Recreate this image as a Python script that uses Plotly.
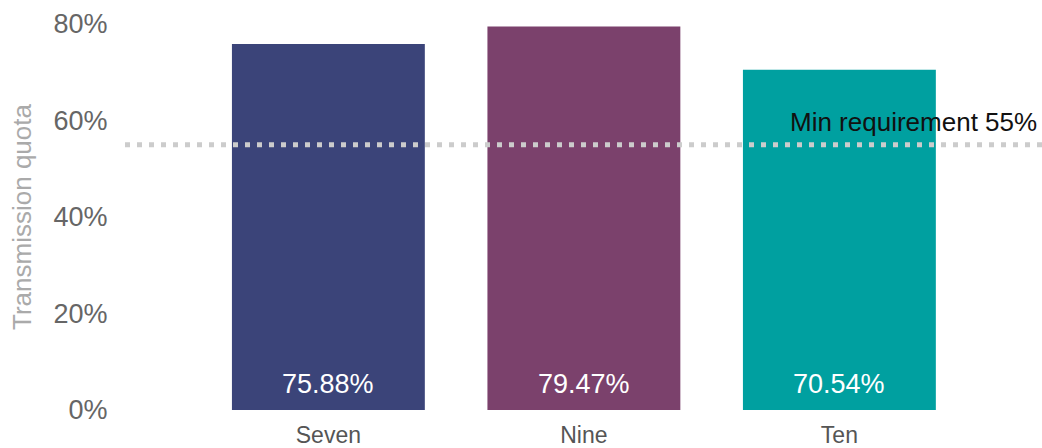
import plotly.graph_objects as go

categories = ["Seven", "Nine", "Ten"]
values = [75.88, 79.47, 70.54]
colors = ["#3b4479", "#7b416c", "#00a0a0"]
threshold = 55
threshold_label = "Min requirement 55%"
y_ticks = [0, 20, 40, 60, 80]
y_tick_labels = ["0%", "20%", "40%", "60%", "80%"]

FONT = "Arial, Liberation Sans, sans-serif"

fig = go.Figure()
fig.add_trace(go.Bar(
    x=categories, y=values, marker=dict(color=colors, line=dict(width=0)),
    hoverinfo="x+y", showlegend=False,
))

for c, v in zip(categories, values):
    fig.add_annotation(x=c, y=0, yanchor="bottom", yshift=9, text=f"{v:.2f}%",
                       showarrow=False, font=dict(family=FONT, size=27, color="white"))

fig.add_shape(type="line", xref="paper", x0=0, x1=1, yref="y", y0=threshold, y1=threshold,
              line=dict(color="#cccccc", width=5, dash="5px,7px"), layer="above")
fig.add_annotation(xref="paper", x=1, xanchor="right", xshift=-3, y=threshold, yanchor="bottom",
                   yshift=6, text=threshold_label, showarrow=False,
                   font=dict(family=FONT, size=26, color="#111111"))

fig.update_layout(
    width=1042, height=448,
    margin=dict(l=125, r=0, t=24, b=38, autoexpand=False),
    paper_bgcolor="white", plot_bgcolor="white",
    bargap=0.245,
    font=dict(family=FONT),
    xaxis=dict(range=[-0.796, 2.793], showgrid=False, showline=False, zeroline=False,
               ticks="outside", ticklen=4, tickcolor="rgba(0,0,0,0)", automargin=False,
               tickfont=dict(family=FONT, size=23, color="#555555")),
    yaxis=dict(range=[0, 80], tickvals=y_ticks, ticktext=y_tick_labels,
               showgrid=False, showline=False, zeroline=False,
               ticks="outside", ticklen=11, tickcolor="rgba(0,0,0,0)", automargin=False,
               tickfont=dict(family=FONT, size=27, color="#666666"),
               title=dict(text="Transmission quota", standoff=14,
                          font=dict(family=FONT, size=26, color="#aaaaaa"))),
)

fig.write_html("out.html", config={"displayModeBar": False},
               post_script="document.body.style.margin='0px';")
